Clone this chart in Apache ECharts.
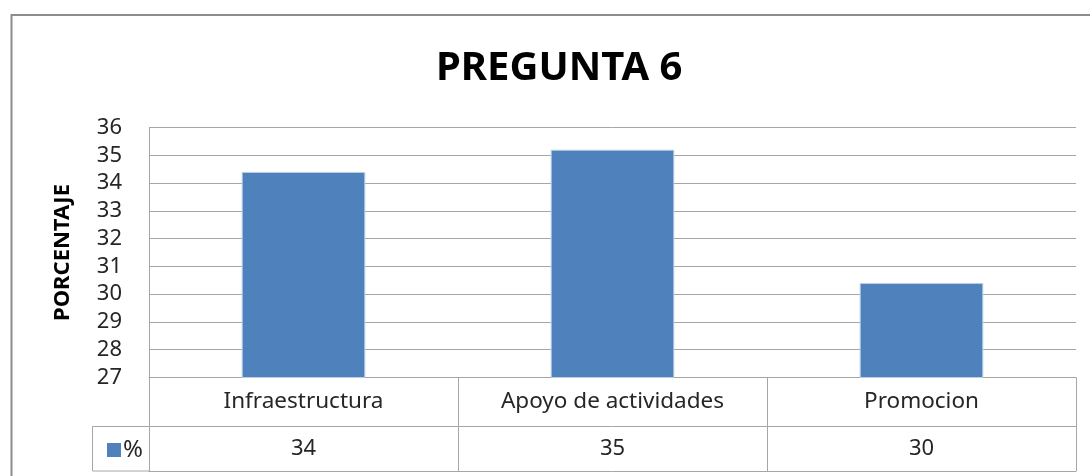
<!DOCTYPE html>
<html>
<head>
<meta charset="utf-8">
<script src="https://cdn.jsdelivr.net/npm/echarts@6/dist/echarts.min.js"></script>
<style>
html,body{margin:0;padding:0;background:#fff;}
#chart{width:1090px;height:476px;}
</style>
</head>
<body>
<div id="chart"></div>
<script>
const categories = ['Infraestructura', 'Apoyo de actividades', 'Promocion'];
const values = [34.4, 35.2, 30.4];
const seriesName = '%';
const yTicks = [27, 28, 29, 30, 31, 32, 33, 34, 35, 36];

const FONT = 'Noto Sans';
const GRAY = '#a6a6a6';
const TXT = '#262626';

const chart = echarts.init(document.getElementById('chart'), null, {renderer: 'canvas'});
chart.setOption({
  animation: false,
  backgroundColor: '#fff',
  title: {
    text: 'PREGUNTA 6',
    left: 431,
    top: 44,
    textStyle: {fontFamily: FONT, fontSize: 40, fontWeight: 'bold', color: '#000'}
  },
  legend: {
    left: 102,
    top: 433,
    itemWidth: 14,
    itemHeight: 14,
    itemGap: 5,
    icon: 'rect',
    selectedMode: false,
    data: [seriesName],
    itemStyle: {borderWidth: 0},
    textStyle: {fontFamily: FONT, fontSize: 24, color: TXT, padding: [0, 0, 0, -3]}
  },
  grid: {left: 149, right: 14, top: 127.5, bottom: 98.5, containLabel: false},
  xAxis: [
    {
      type: 'category',
      data: categories,
      position: 'bottom',
      axisLine: {show: true, lineStyle: {color: GRAY, width: 1}},
      axisTick: {show: true, length: 93.5, inside: false, lineStyle: {color: GRAY, width: 1}},
      axisLabel: {fontFamily: FONT, fontSize: 22.5, color: TXT, margin: 13, lineHeight: 22},
      splitLine: {show: false}
    },
    {
      type: 'category',
      data: categories,
      position: 'bottom',
      offset: 49,
      axisLine: {show: true, lineStyle: {color: GRAY, width: 1}},
      axisTick: {show: false},
      axisLabel: {
        fontFamily: FONT, fontSize: 22, color: TXT, margin: 11, lineHeight: 22,
        formatter: function (v, i) { return String(Math.round(values[i])); }
      }
    },
    {
      type: 'category',
      data: categories,
      position: 'bottom',
      offset: 93.5,
      axisLine: {show: true, lineStyle: {color: GRAY, width: 1}},
      axisTick: {show: false},
      axisLabel: {show: false}
    }
  ],
  yAxis: {
    type: 'value',
    min: yTicks[0],
    max: yTicks[yTicks.length - 1],
    interval: 1,
    name: 'PORCENTAJE',
    nameLocation: 'middle',
    nameGap: 75,
    nameTextStyle: {fontFamily: FONT, fontSize: 22, fontWeight: 'bold', color: '#000'},
    axisLine: {show: true, lineStyle: {color: GRAY, width: 1}},
    axisTick: {show: false},
    axisLabel: {fontFamily: FONT, fontSize: 22, color: TXT, margin: 27},
    splitLine: {show: true, lineStyle: {color: GRAY, width: 1}}
  },
  series: [{
    name: seriesName,
    type: 'bar',
    data: values,
    barWidth: '40%',
    itemStyle: {color: '#4F81BD', borderColor: '#b9cde5', borderWidth: 1},
    xAxisIndex: 0,
    yAxisIndex: 0
  }],
  graphic: [
    {
      type: 'polyline',
      shape: {points: [[11.5, 480], [11.5, 15], [1095, 15]]},
      style: {stroke: '#8c8c8c', lineWidth: 2, fill: null},
      silent: true
    },
    {
      type: 'polyline',
      shape: {points: [[149, 426.5], [92.5, 426.5], [92.5, 471], [149, 471]]},
      style: {stroke: GRAY, lineWidth: 1, fill: null},
      silent: true
    }
  ]
});
</script>
</body>
</html>
